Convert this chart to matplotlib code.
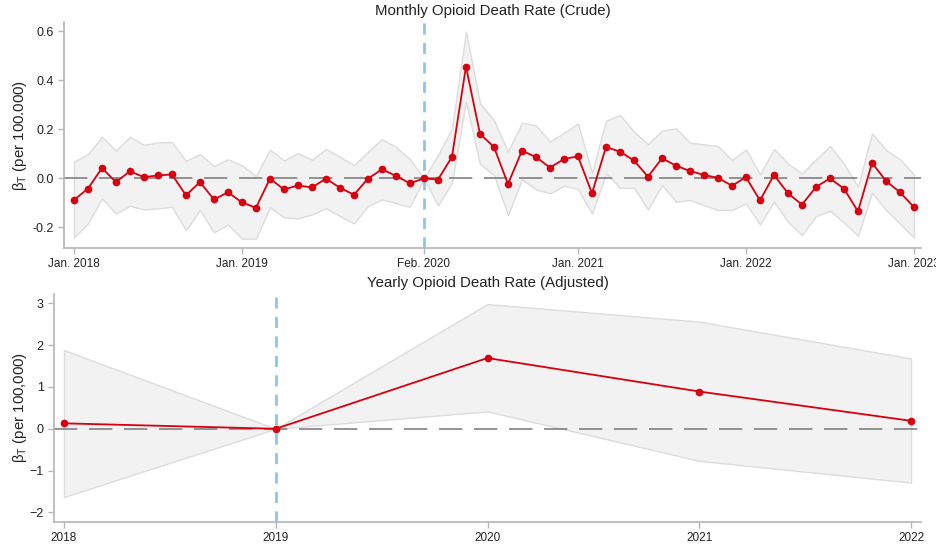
import matplotlib
matplotlib.use("Agg")
import matplotlib.pyplot as plt
import numpy as np

plt.rcParams['font.family'] = ['Liberation Sans', 'DejaVu Sans']
plt.rcParams['mathtext.fontset'] = 'custom'
plt.rcParams['mathtext.rm'] = 'Liberation Sans'

# monthly estimates (Jan. 2018 .. Jan. 2023), reference month Feb. 2020
monthlyEst = [-0.088, -0.042, 0.042, -0.015, 0.029, 0.005, 0.012, 0.016, -0.069, -0.015,
              -0.086, -0.057, -0.098, -0.120, -0.001, -0.045, -0.029, -0.037, -0.001, -0.038,
              -0.067, -0.001, 0.037, 0.010, -0.020, 0.000, -0.005, 0.088, 0.456, 0.182,
              0.128, -0.023, 0.113, 0.087, 0.044, 0.079, 0.090, -0.061, 0.128, 0.109,
              0.073, 0.007, 0.082, 0.052, 0.030, 0.014, 0.002, -0.030, 0.005, -0.090,
              0.014, -0.061, -0.107, -0.035, 0.000, -0.042, -0.135, 0.063, -0.010, -0.057,
              -0.117]
monthlyHi = [0.068, 0.099, 0.170, 0.113, 0.170, 0.137, 0.147, 0.148, 0.071, 0.099,
             0.050, 0.078, 0.053, 0.010, 0.117, 0.073, 0.103, 0.076, 0.120, 0.088,
             0.054, 0.109, 0.160, 0.128, 0.078, 0.000, 0.095, 0.204, 0.599, 0.306,
             0.238, 0.109, 0.227, 0.216, 0.150, 0.186, 0.224, 0.023, 0.235, 0.259,
             0.190, 0.140, 0.195, 0.204, 0.146, 0.139, 0.132, 0.075, 0.118, 0.016,
             0.120, 0.061, 0.020, 0.078, 0.132, 0.059, -0.034, 0.184, 0.116, 0.078,
             0.016]
monthlyLo = [-0.241, -0.184, -0.082, -0.143, -0.112, -0.127, -0.122, -0.116, -0.211, -0.129,
             -0.220, -0.188, -0.246, -0.246, -0.118, -0.159, -0.163, -0.147, -0.122, -0.154,
             -0.184, -0.112, -0.086, -0.101, -0.116, 0.000, -0.110, -0.018, 0.313, 0.059,
             0.014, -0.150, -0.004, -0.045, -0.061, -0.030, -0.044, -0.143, 0.020, -0.038,
             -0.038, -0.127, -0.027, -0.095, -0.088, -0.109, -0.129, -0.129, -0.102, -0.188,
             -0.095, -0.177, -0.231, -0.154, -0.132, -0.180, -0.234, -0.059, -0.129, -0.184,
             -0.242]
monthTicks = [0, 12, 25, 36, 48, 60]
monthTickLabels = ['Jan. 2018', 'Jan. 2019', 'Feb. 2020', 'Jan. 2021', 'Jan. 2022', 'Jan. 2023']
refMonth = 25

# yearly estimates, reference year 2019
years = [2018, 2019, 2020, 2021, 2022]
yearlyEst = [0.13, 0.0, 1.69, 0.89, 0.19]
yearlyHi = [1.88, 0.0, 2.98, 2.56, 1.68]
yearlyLo = [-1.63, 0.0, 0.415, -0.766, -1.285]
refYear = 2019

redCol = '#d7000f'
bandCol = '#f2f2f2'
bandEdge = '#dcdcdc'
blueCol = '#8ec5ea'
spineCol = '#b4b4b4'


def styleAxis(ax, ylab, labelX):
    for s in ['top', 'right']:
        ax.spines[s].set_visible(False)
    for s in ['left', 'bottom']:
        ax.spines[s].set_color(spineCol)
        ax.spines[s].set_linewidth(1.2)
    ax.tick_params(axis='both', colors=spineCol, labelcolor='#222222', labelsize=8.5, length=4, width=1)
    ax.tick_params(axis='y', labelsize=9)
    ax.set_ylabel(ylab, fontsize=10.8, color='#222222')
    ax.yaxis.set_label_coords(labelX, 0.5)


fig = plt.figure(figsize=(9.36, 5.5), dpi=100)
ax1 = fig.add_axes([64 / 936, 1 - 248 / 550, (921 - 64) / 936, (248 - 22) / 550])
ax2 = fig.add_axes([54 / 936, 1 - 521.7 / 550, (921 - 54) / 936, (521.7 - 294) / 550])

# top panel
x = np.arange(len(monthlyEst))
ax1.fill_between(x, monthlyLo, monthlyHi, facecolor=bandCol, edgecolor=bandEdge, linewidth=1, zorder=1)
ax1.axhline(0, color='#808080', linewidth=1.2, dashes=(14, 7), zorder=2)
ax1.axvline(refMonth, color=blueCol, linewidth=2, dashes=(4, 3), zorder=3)
ax1.plot(x, monthlyEst, color=redCol, linewidth=1.3, marker='o', markersize=4.5, zorder=4)
ax1.set_xlim(-0.71, 60.5)
ax1.set_ylim(-0.284, 0.638)
ax1.set_xticks(monthTicks)
ax1.set_xticklabels(monthTickLabels)
ax1.set_yticks([-0.2, 0.0, 0.2, 0.4, 0.6])
ax1.set_yticklabels(['-0.2', '0.0', '0.2', '0.4', '0.6'])
ax1.set_title('Monthly Opioid Death Rate (Crude)', fontsize=10.8, color='#222222', pad=5)
styleAxis(ax1, r'β$_{\mathregular{T}}$ (per 100.000)', (29 - 64) / 857)

# bottom panel
ax2.fill_between(years, yearlyLo, yearlyHi, facecolor=bandCol, edgecolor=bandEdge, linewidth=1, zorder=1)
ax2.axhline(0, color='#808080', linewidth=1.2, dashes=(14, 7), zorder=2)
ax2.axvline(refYear, color=blueCol, linewidth=2, dashes=(4, 3), zorder=3)
ax2.plot(years, yearlyEst, color=redCol, linewidth=1.3, marker='o', markersize=4.5, zorder=4)
ax2.set_xlim(2017.953, 2022.047)
ax2.set_ylim(-2.22, 3.22)
ax2.set_xticks(years)
ax2.set_xticklabels([str(y) for y in years])
ax2.set_yticks([-2, -1, 0, 1, 2, 3])
ax2.set_title('Yearly Opioid Death Rate (Adjusted)', fontsize=10.8, color='#222222', pad=5)
styleAxis(ax2, r'β$_{\mathregular{T}}$ (per 100,000)', (29 - 54) / 867)

fig.savefig('out.png', dpi=100)
plt.close(fig)
